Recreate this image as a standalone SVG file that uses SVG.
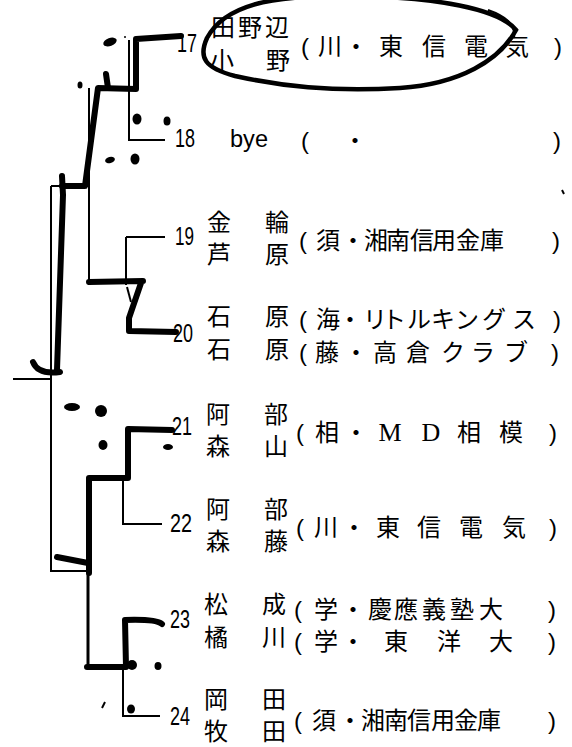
<svg xmlns="http://www.w3.org/2000/svg" width="572" height="747" viewBox="0 0 572 747">
<style>
.nm{font-family:"Noto Sans CJK JP",sans-serif;font-size:24px;fill:#000;text-anchor:middle}
.af{font-family:"Liberation Sans","Noto Sans CJK JP",sans-serif;font-size:24px;fill:#000;text-anchor:middle}
.ser{font-family:"Liberation Serif",serif;font-size:26px}
.num{font-family:"Liberation Sans",sans-serif;font-size:26px;fill:#000}
.bye{font-family:"Liberation Sans",sans-serif;font-size:23px;fill:#000}
.thin{stroke:#000;stroke-width:2;fill:none}
.med{stroke:#000;stroke-width:3;fill:none}
.thick{stroke:#000;stroke-width:6;fill:none;stroke-linecap:round;stroke-linejoin:round}
.blob{fill:#000}
</style>
<rect width="572" height="747" fill="#fff"/>
<g id="connectors">
<path class="thin" d="M129 40 V140 H165"/>
<path class="thin" d="M126 237 H165 M126 237 V285"/>
<path class="thin" d="M89 88 V285"/>
<path class="thin" d="M51 186 H88"/>
<path class="thin" d="M51 186 V571 H88"/>
<path class="thin" d="M13 379 H51"/>
<path class="med" d="M88 571 V667"/>
<path class="thin" d="M123 478 V524 H162"/>
<path class="thin" d="M123 667 V716 H160"/>
<path class="thick" d="M181 36 L136 39 L136 89 L98 88 L85 186 L62 186"/>
<path class="thick" d="M62 176 L63 195 L57 370"/>
<path class="thick" d="M33 362 Q38 375 60 372"/>
<path class="thick" d="M106 74 L108 88"/>
<path class="thick" d="M176 332 L129 331 L129 318 L141 283 M143 281 L89 282"/>
<path class="thin" d="M127 287 L131 302"/>
<path class="thick" d="M172 430 L128 429 L128 478 L89 478 L89 573"/>
<path class="thick" d="M57 557 L88 563"/>
<path class="thick" d="M162 624 Q156 619 125 620 L126 667 L87 667"/>
</g>
<g id="marks">
<ellipse class="blob" cx="110" cy="42" rx="7" ry="4" transform="rotate(-20 110 42)"/>
<circle class="blob" cx="125" cy="37" r="1"/>
<ellipse class="blob" cx="80" cy="85" rx="2.5" ry="3.5"/>
<ellipse class="blob" cx="137" cy="119" rx="4.5" ry="5.5"/>
<ellipse class="blob" cx="167" cy="121" rx="3.5" ry="4.5"/>
<ellipse class="blob" cx="110" cy="160" rx="5" ry="3" transform="rotate(-15 110 160)"/>
<ellipse class="blob" cx="135" cy="159" rx="4.5" ry="5.5"/>
<path class="thin" d="M562 190 L564 194"/>
<ellipse class="blob" cx="72" cy="407" rx="8" ry="4"/>
<ellipse class="blob" cx="101" cy="411" rx="6" ry="6"/>
<ellipse class="blob" cx="103" cy="445" rx="4.5" ry="5"/>
<ellipse class="blob" cx="168" cy="447" rx="5" ry="3"/>
<circle class="blob" cx="132" cy="665" r="5"/>
<ellipse class="blob" cx="158" cy="666" rx="3.5" ry="4"/>
<ellipse class="blob" cx="131" cy="709" rx="4" ry="4.5"/>
<path class="thin" d="M102 708 L105 702"/>
</g>
<g id="p17">
<text class="num" x="177" y="52" textLength="20" lengthAdjust="spacingAndGlyphs">17</text>
<text class="nm" x="223 250 277" y="36">田野辺</text>
<text class="nm" x="222 278" y="69">小野</text>
<text class="af" x="305 330 356 391 434 476 517 558" y="55">(川・東信電気)</text>
</g>
<g id="champion-circle">
<path d="M516 30 C500 10 440 -4 340 -4 C270 -4 225 5 207 38 C198 58 205 68 235 76 C280 86 330 92 400 88 C460 84 500 60 516 30 Z" fill="none" stroke="#000" stroke-width="4.5"/>
<path d="M488 10 C505 16 516 24 514 38" fill="none" stroke="#000" stroke-width="2"/>
</g>
<g id="p18">
<text class="num" x="175" y="147" textLength="20" lengthAdjust="spacingAndGlyphs">18</text>
<text class="bye" x="230" y="147" textLength="38" lengthAdjust="spacingAndGlyphs">bye</text>
<text class="af" x="305 355 557" y="149">(・)</text>
</g>
<g id="p19">
<text class="num" x="175" y="245" textLength="19" lengthAdjust="spacingAndGlyphs">19</text>
<text class="nm" x="219 277" y="231">金輪</text>
<text class="nm" x="219 277" y="263">芦原</text>
<text class="af" x="303 328 353 376 398 422 444 468 492 556" y="249">(須・湘南信用金庫)</text>
</g>
<g id="p20">
<text class="num" x="173" y="342" textLength="20" lengthAdjust="spacingAndGlyphs">20</text>
<text class="nm" x="219 277" y="325">石原</text>
<text class="nm" x="219 277" y="358">石原</text>
<text class="af" x="303 328 350 375 394 419 443 467 494 524 557" y="328">(海・リトルキングス)</text>
<text class="af" x="303 327 356 385 418 453 483 516 555" y="361">(藤・高倉クラブ)</text>
</g>
<g id="p21">
<text class="num" x="172" y="435" textLength="20" lengthAdjust="spacingAndGlyphs">21</text>
<text class="nm" x="218 276" y="423">阿部</text>
<text class="nm" x="218 276" y="455">森山</text>
<text class="af" y="441"><tspan x="300 327 356">(相・</tspan><tspan class="ser" x="390 431">MD</tspan><tspan x="469 511 553">相模)</tspan></text>
</g>
<g id="p22">
<text class="num" x="170" y="532" textLength="22" lengthAdjust="spacingAndGlyphs">22</text>
<text class="nm" x="218 276" y="518">阿部</text>
<text class="nm" x="218 276" y="550">森藤</text>
<text class="af" x="300 326 354 388 429 471 514 553" y="536">(川・東信電気)</text>
</g>
<g id="p23">
<text class="num" x="170" y="628" textLength="20" lengthAdjust="spacingAndGlyphs">23</text>
<text class="nm" x="216 274" y="613">松成</text>
<text class="nm" x="216 274" y="646">橘川</text>
<text class="af" x="298 326 353 380 406 434 462 491 552" y="618">(学・慶應義塾大)</text>
<text class="af" x="298 326 353 396 449 501 552" y="650">(学・東洋大)</text>
</g>
<g id="p24">
<text class="num" x="170" y="725" textLength="20" lengthAdjust="spacingAndGlyphs">24</text>
<text class="nm" x="216 274" y="708">岡田</text>
<text class="nm" x="216 274" y="740">牧田</text>
<text class="af" x="298 324 350 373 396 419 443 466 489 552" y="729">(須・湘南信用金庫)</text>
</g>
</svg>
